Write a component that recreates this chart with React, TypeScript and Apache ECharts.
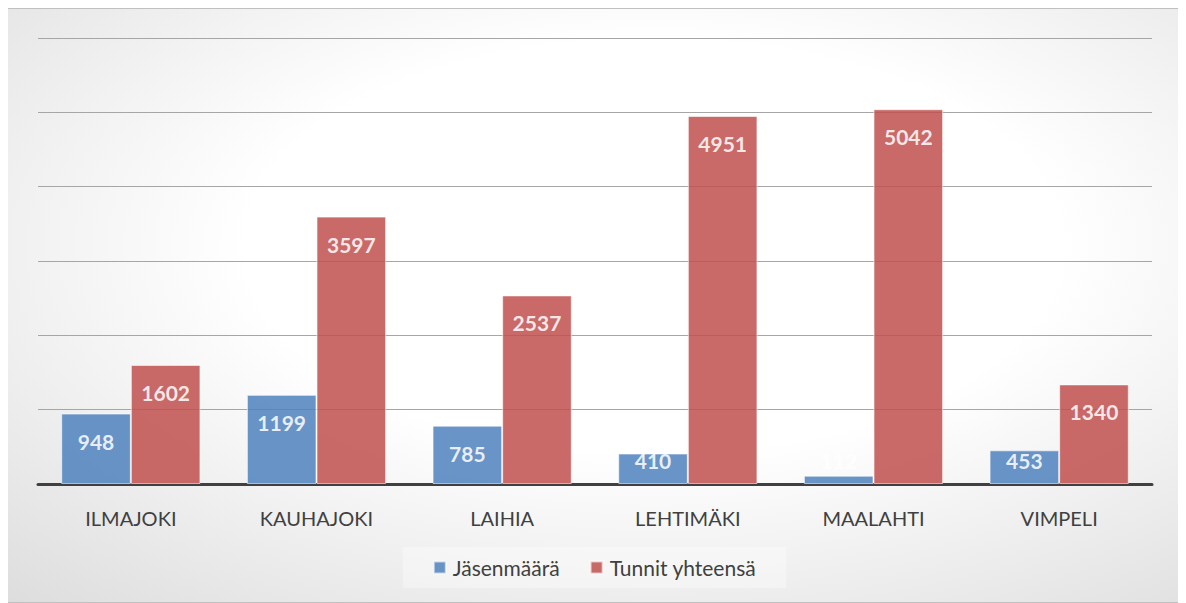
import React, { useEffect, useRef } from "react";
import * as echarts from "echarts";

const categories = ["ILMAJOKI", "KAUHAJOKI", "LAIHIA", "LEHTIMÄKI", "MAALAHTI", "VIMPELI"];
const jasenmaara = [948, 1199, 785, 410, 112, 453];
const tunnit = [1602, 3597, 2537, 4951, 5042, 1340];
const seriesNames = ["Jäsenmäärä", "Tunnit yhteensä"];

const FONT = "Lato, 'Noto Sans', sans-serif";

function withLabels(values: number[]) {
  return values.map((v) => ({
    value: v,
    label:
      v < 600
        ? { position: "insideBottom", distance: 13 }
        : { position: "insideTop", distance: 17 },
  }));
}

export default function App() {
  const ref = useRef<HTMLDivElement>(null);
  useEffect(() => {
    if (!ref.current) return;
    const chart = echarts.init(ref.current, undefined, { renderer: "svg" });
    const labelStyle = {
      show: true,
      color: "#ffffff",
      fontFamily: FONT,
      fontWeight: "bold",
      fontSize: 21,
    };
    chart.setOption({
      animation: false,
      backgroundColor: {
        type: "radial",
        x: 0.55,
        y: 0.4,
        r: 1.16,
        colorStops: [
          { offset: 0, color: "#ffffff" },
          { offset: 0.3, color: "#ffffff" },
          { offset: 1, color: "#c4c4c4" },
        ],
      },
      grid: { left: 30, right: 29, top: 29, bottom: 118, containLabel: false },
      legend: {
        data: seriesNames,
        top: 538,
        left: "center",
        icon: "rect",
        itemWidth: 12,
        itemHeight: 12,
        itemGap: 30,
        padding: [10, 30, 10, 30],
        backgroundColor: "rgba(255,255,255,0.35)",
        textStyle: { color: "#404040", fontFamily: FONT, fontSize: 21, padding: [0, 0, 0, 2] },
      },
      xAxis: {
        type: "category",
        data: categories,
        axisLine: { show: true, lineStyle: { color: "#404040", width: 3 } },
        axisTick: { show: false },
        axisLabel: { color: "#404040", fontFamily: FONT, fontSize: 20, margin: 24 },
      },
      yAxis: {
        type: "value",
        min: 0,
        max: 6000,
        interval: 1000,
        axisLabel: { show: false },
        axisLine: { show: false },
        axisTick: { show: false },
        splitLine: { lineStyle: { color: "#a6a6a6", width: 1 } },
      },
      series: [
        {
          name: seriesNames[0],
          type: "bar",
          data: withLabels(jasenmaara),
          barGap: "0%",
          barCategoryGap: "25%",
          itemStyle: { color: "#4F81BD", opacity: 0.85, borderColor: "rgba(255,255,255,0.7)", borderWidth: 1 },
          label: labelStyle,
        },
        {
          name: seriesNames[1],
          type: "bar",
          data: withLabels(tunnit),
          itemStyle: { color: "#C0504D", opacity: 0.85, borderColor: "rgba(255,255,255,0.7)", borderWidth: 1 },
          label: labelStyle,
        },
      ],
    });
    return () => chart.dispose();
  }, []);
  return (
    <div
      ref={ref}
      style={{ width: 1175, height: 595, marginLeft: -1, border: "1px solid #c0c0c0", boxSizing: "border-box" }}
    />
  );
}
